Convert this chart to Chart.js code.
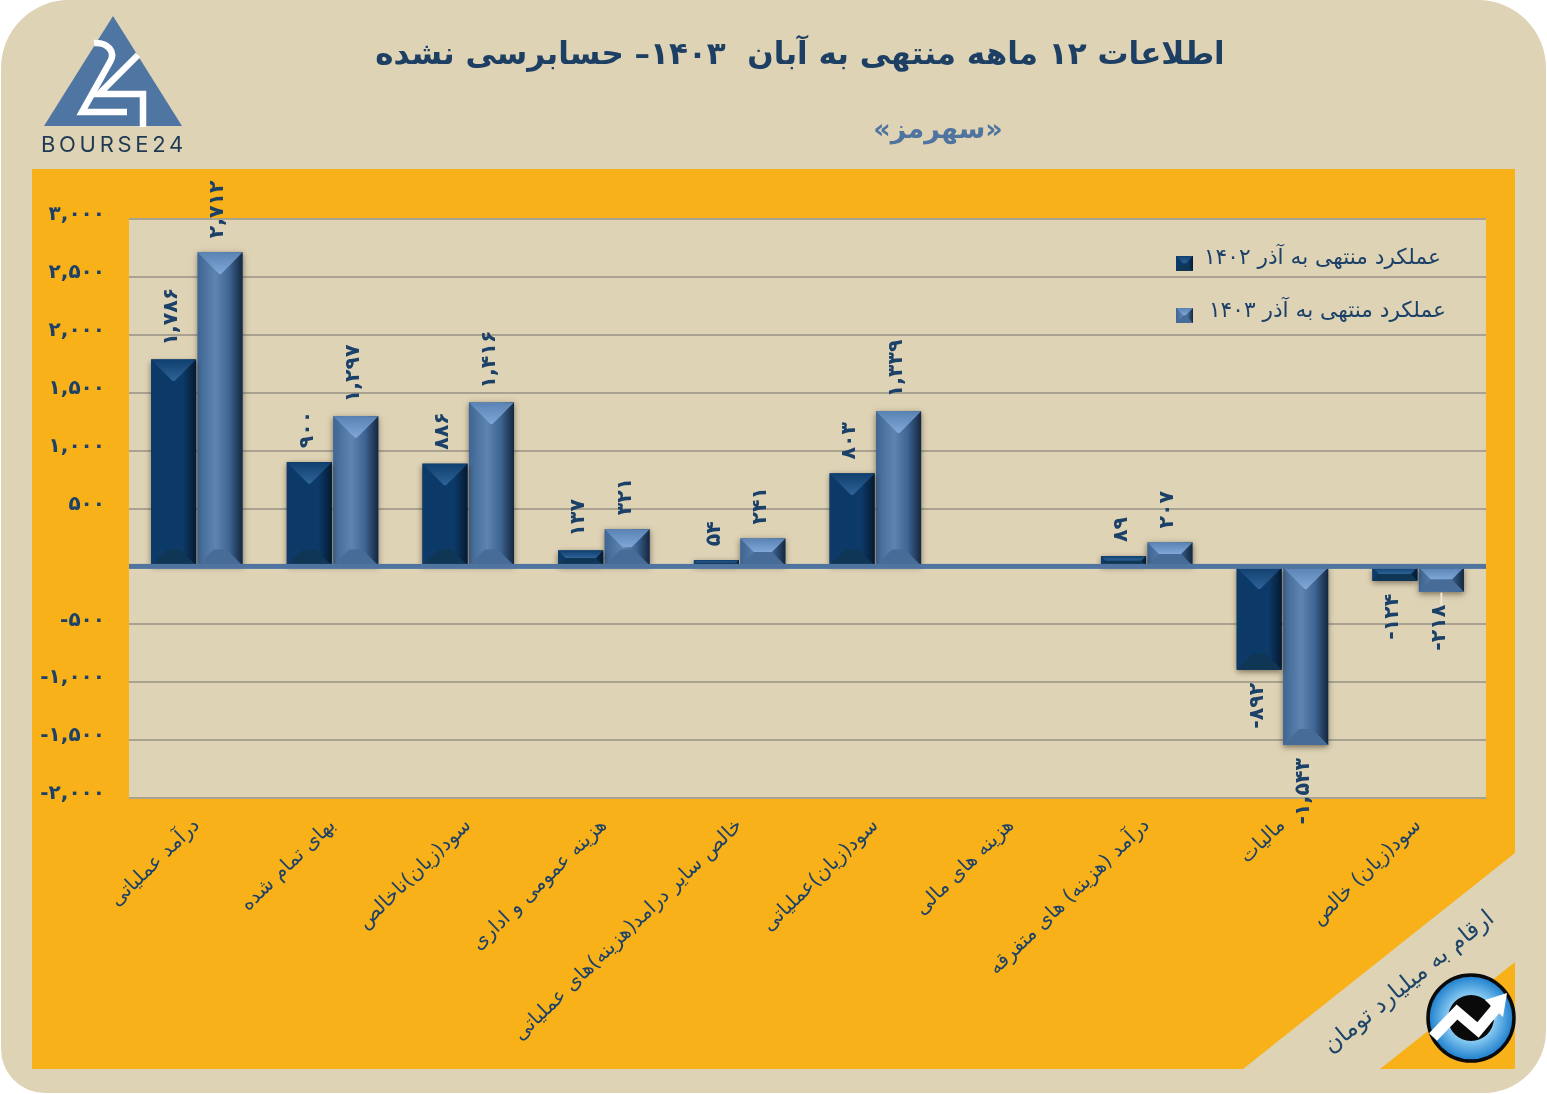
<!DOCTYPE html>
<html lang="fa">
<head>
<meta charset="utf-8">
<title>سهرمز</title>
<script src="https://cdn.jsdelivr.net/npm/chart.js@4"></script>
<style>
  html, body { margin: 0; padding: 0; background: #fff; }
  body { position: relative; width: 1547px; height: 1094px; overflow: hidden; font-family: "DejaVu Sans", sans-serif; }
  .card { position: absolute; left: 1px; top: 0; width: 1545px; height: 1093px; background: #dfd3b6; border-radius: 68px 68px 62px 44px; }
  .panel { position: absolute; left: 0; top: 0; width: 1547px; height: 1094px; background: #f8b119;
    clip-path: polygon(32px 169px, 1515px 169px, 1515px 853px, 1243px 1069px, 32px 1069px); }
  .corner { position: absolute; left: 0; top: 0; width: 1547px; height: 1094px; background: #f8b119;
    clip-path: polygon(1515px 962px, 1515px 1069px, 1380px 1069px); }
  canvas { position: absolute; left: 0; top: 0; }
  .txt { position: absolute; white-space: pre; direction: rtl; }
  #title { left: 300px; width: 1000px; top: 35px; text-align: center; font-size: 31px; font-weight: bold; color: #1c3f63; }
  #sub { left: 738px; width: 400px; top: 113px; text-align: center; font-size: 27px; font-weight: bold; color: #4f749f; }
  #note { left: 1258px; width: 300px; top: 967px; text-align: center; font-size: 23.5px; color: #1d4568; transform: rotate(-39deg); }
  svg { position: absolute; left: 0; top: 0; }
</style>
</head>
<body>
<div class="card"></div>
<div class="panel"></div>
<div class="corner"></div>
<canvas id="chart" width="1547" height="1094"></canvas>

<div class="txt" id="title">اطلاعات ۱۲ ماهه منتهی به آبان  ۱۴۰۳– حسابرسی نشده</div>
<div class="txt" id="sub">«سهرمز»</div>
<div class="txt" id="note">ارقام به میلیارد تومان</div>

<svg width="1547" height="1094">
  <defs>
    <radialGradient id="blue" cx="50%" cy="50%" r="50%">
      <stop offset="0.5" stop-color="#8fd0f5"/>
      <stop offset="1" stop-color="#1a7ccb"/>
    </radialGradient>
  </defs>
  <polygon points="113,16 182,126 44,126" fill="#4f76a3"/>
  <path d="M94,43 C108,42 116,52 110,62 L82,112 L127,112" fill="none" stroke="#fff" stroke-width="6.5"/>
  <path d="M138,55 L99,94 L143,94 L143,127" fill="none" stroke="#fff" stroke-width="6.5"/>
  <text x="41" y="152" font-family="Inter" font-size="22" letter-spacing="3.7" fill="#1f3a52">BOURSE24</text>
  <circle cx="1471" cy="1018" r="43" fill="url(#blue)" stroke="#0a0a0a" stroke-width="3.5"/>
  <circle cx="1471" cy="1018" r="23" fill="#0a0a0a"/>
  <path d="M1433,1037 L1457,1012 L1478,1030 L1498,1006" fill="none" stroke="#fff" stroke-width="11"/>
  <polygon points="1507,993 1503,1017 1485,1000" fill="#fff"/>
</svg>

<script>
const categories = ['درآمد عملیاتی', 'بهای تمام شده', 'سود(زیان)ناخالص', 'هزینه عمومی و اداری', 'خالص سایر درامد(هزینه)های عملیاتی', 'سود(زیان)عملیاتی', 'هزینه های مالی', 'درآمد (هزینه) های متفرقه', 'مالیات', 'سود(زیان) خالص'];
const series1402 = [1786, 900, 886, 137, 54, 803, null, 89, -892, -124];
const series1403 = [2712, 1297, 1416, 321, 241, 1339, null, 207, -1543, -218];
const seriesNames = ['عملکرد منتهی به آذر ۱۴۰۲', 'عملکرد منتهی به آذر ۱۴۰۳'];
const yTickLabels = ['-۲,۰۰۰', '-۱,۵۰۰', '-۱,۰۰۰', '-۵۰۰', '', '۵۰۰', '۱,۰۰۰', '۱,۵۰۰', '۲,۰۰۰', '۲,۵۰۰', '۳,۰۰۰'];

const NAVY = '#1c4168';
const FONT = '"DejaVu Sans", sans-serif';

// each series: edge, centre and bevel colours
const skins = [
  { left: '#0d3a69', mid: '#0c3a68', right: '#051a30', top0: '#0f3f6e', top1: '#2f6498', bot: '#103656' },
  { left: '#3e6593', mid: '#5f84b0', right: '#14263e', top0: '#5a82b2', top1: '#7fa8d8', bot: '#476c97' }
];

function toFa(v) {
  const s = Math.abs(v).toLocaleString('en-US').replace(/\d/g, d => '۰۱۲۳۴۵۶۷۸۹'[d]);
  return (v < 0 ? '-' : '') + s;
}

function trap(ctx, x0, y0, x1, y1, x2, y2, x3, y3, fill) {
  ctx.beginPath();
  ctx.moveTo(x0, y0);
  ctx.lineTo(x1, y1);
  ctx.lineTo(x2, y2);
  ctx.lineTo(x3, y3);
  ctx.closePath();
  ctx.fillStyle = fill;
  ctx.fill();
}

function bevel(ctx, x, y, w, h, skin) {
  const g = ctx.createLinearGradient(x, 0, x + w, 0);
  g.addColorStop(0, skin.left);
  g.addColorStop(0.4, skin.mid);
  g.addColorStop(0.7, skin.left);
  g.addColorStop(1, skin.right);
  ctx.fillStyle = g;
  ctx.fillRect(x, y, w, h);

  const top = Math.min(w / 2 - 1, h / 2);
  const bot = Math.min(16, h / 2);
  const tg = ctx.createLinearGradient(0, y, 0, y + top);
  tg.addColorStop(0, skin.top0);
  tg.addColorStop(1, skin.top1);
  trap(ctx, x, y, x + w, y, x + w - top, y + top, x + top, y + top, tg);
  trap(ctx, x, y + h, x + w, y + h, x + w - bot, y + h - bot, x + bot, y + h - bot, skin.bot);
}

const chromePlugin = {
  id: 'chrome',
  beforeDraw(chart) {
    const a = chart.chartArea;
    chart.ctx.fillStyle = '#dfd3b6';
    chart.ctx.fillRect(a.left, a.top, a.width, a.height);
  },
  beforeDatasetDraw(chart) {
    const ctx = chart.ctx;
    ctx.save();
    ctx.shadowColor = 'rgba(40,30,10,0.55)';
    ctx.shadowBlur = 6;
    ctx.shadowOffsetY = 2;
  },
  afterDatasetDraw(chart, args) {
    const ctx = chart.ctx;
    ctx.restore();
    const skin = skins[args.index];
    chart.getDatasetMeta(args.index).data.forEach((bar, i) => {
      if (chart.data.datasets[args.index].data[i] === null) return;
      const p = bar.getProps(['x', 'y', 'base', 'width'], true);
      bevel(ctx, p.x - p.width / 2, Math.min(p.y, p.base), p.width, Math.abs(p.base - p.y), skin);
    });
  },
  afterDatasetsDraw(chart) {
    const ctx = chart.ctx;
    const a = chart.chartArea;
    const zero = chart.scales.y.getPixelForValue(0);

    // zero line sits over the bars
    ctx.fillStyle = '#4f749f';
    ctx.fillRect(a.left, zero - 2.5, a.width, 5);

    // value labels, turned to read upwards
    chart.data.datasets.forEach((ds, di) => {
      chart.getDatasetMeta(di).data.forEach((bar, i) => {
        const v = ds.data[i];
        if (v === null) return;
        const p = bar.getProps(['x', 'y'], true);
        if (v === -218) {
          ctx.fillStyle = '#efe8d6';
          ctx.fillRect(p.x - 1, p.y + 1, 2, 13);
        }
        ctx.save();
        ctx.translate(p.x - 2, v >= 0 ? p.y - 14 : p.y + 13);
        ctx.rotate(-Math.PI / 2);
        ctx.direction = 'ltr';
        ctx.font = 'bold 20.5px ' + FONT;
        ctx.fillStyle = NAVY;
        ctx.textBaseline = 'middle';
        ctx.textAlign = v >= 0 ? 'left' : 'right';
        ctx.fillText(toFa(v), 0, 0);
        ctx.restore();
      });
    });

    // legend
    const rows = [{ y: 258, right: 1441, sw: 263 }, { y: 311, right: 1446, sw: 315 }];
    rows.forEach((r, i) => {
      bevel(ctx, 1176, r.sw - 7, 17, 15, skins[i]);
      ctx.save();
      ctx.direction = 'rtl';
      ctx.font = '21.7px ' + FONT;
      ctx.fillStyle = NAVY;
      ctx.textBaseline = 'middle';
      ctx.textAlign = 'right';
      ctx.fillText(chart.data.datasets[i].label, r.right, r.y);
      ctx.restore();
    });
  }
};

new Chart(document.getElementById('chart'), {
  type: 'bar',
  data: {
    labels: categories,
    datasets: [
      { label: seriesNames[0], data: series1402, backgroundColor: skins[0].mid, barPercentage: 0.97, categoryPercentage: 0.685 },
      { label: seriesNames[1], data: series1403, backgroundColor: skins[1].mid, barPercentage: 0.97, categoryPercentage: 0.685 }
    ]
  },
  options: {
    responsive: false,
    animation: false,
    layout: { padding: { left: 29, right: 61, top: 219, bottom: 0 } },
    plugins: { legend: { display: false }, tooltip: { enabled: false } },
    scales: {
      x: {
        grid: { display: false },
        border: { display: false },
        ticks: { minRotation: 44, maxRotation: 44, autoSkip: false, padding: 8, color: NAVY, font: { family: FONT, size: 20 } },
        afterFit(s) { s.height = 296; s.paddingLeft = 0; s.paddingRight = 0; }
      },
      y: {
        min: -2000,
        max: 3000,
        grid: { color: '#a9a290', lineWidth: 2, drawTicks: false },
        border: { display: false },
        ticks: {
          stepSize: 500,
          padding: 24,
          labelOffset: -4,
          color: NAVY,
          font: { family: FONT, size: 20, weight: 'bold' },
          callback: (v, i) => yTickLabels[i]
        },
        afterFit(s) { s.width = 100; s.paddingTop = 0; s.paddingBottom = 0; }
      }
    }
  },
  plugins: [chromePlugin]
});
</script>
</body>
</html>
